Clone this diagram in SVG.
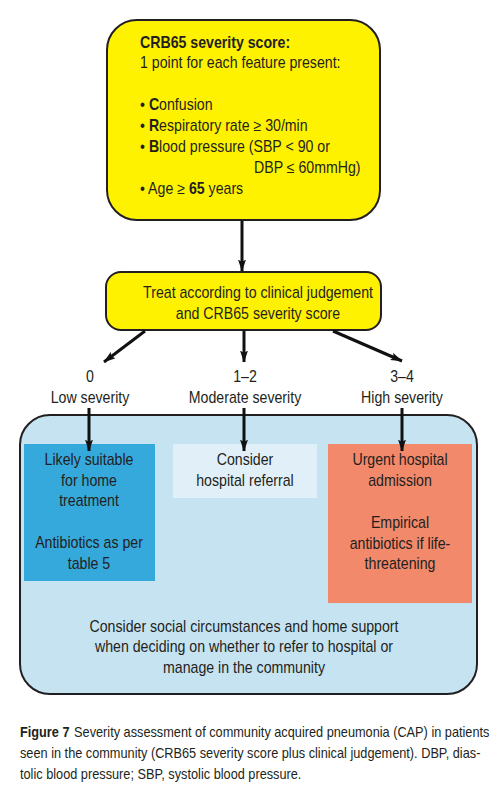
<svg xmlns="http://www.w3.org/2000/svg" width="499" height="794" viewBox="0 0 499 794">
<defs>
<marker id="ah" viewBox="0 0 12 8" refX="11.5" refY="4" markerWidth="4" markerHeight="2.67" orient="auto" markerUnits="strokeWidth">
<path d="M0,0 L12,4 L0,8 L2.5,4 Z" fill="#111"/>
</marker>
<style>
text{font-family:"Liberation Sans",Arial,sans-serif;font-size:16px;fill:#231f20}
.c{text-anchor:middle}
.b{font-weight:bold}
.cap{font-size:14px}
.conn line{stroke:#111;stroke-width:3;marker-end:url(#ah)}
</style>
</defs>
<rect width="499" height="794" fill="#fff"/>
<g id="community">
<rect x="20" y="415" width="457" height="279" rx="30" fill="#c6e3f2" stroke="#231f20" stroke-width="2"/>
<text class="c" transform="matrix(0.885 0 0 1 244 0)" y="632">Consider social circumstances and home support</text>
<text class="c" transform="matrix(0.885 0 0 1 244 0)" y="652">when deciding on whether to refer to hospital or</text>
<text class="c" transform="matrix(0.885 0 0 1 244 0)" y="673">manage in the community</text>
</g>
<g id="crb65">
<rect x="107" y="20" width="273" height="200" rx="30" fill="#fff200" stroke="#231f20" stroke-width="2"/>
<text transform="matrix(0.885 0 0 1 140 0)" y="48" class="b">CRB65 severity score:</text>
<text transform="matrix(0.885 0 0 1 140 0)" y="68">1 point for each feature present:</text>
<text transform="matrix(0.885 0 0 1 140 0)" y="110">• <tspan class="b">C</tspan>onfusion</text>
<text transform="matrix(0.885 0 0 1 140 0)" y="131">• <tspan class="b">R</tspan>espiratory rate ≥ 30/min</text>
<text transform="matrix(0.885 0 0 1 140 0)" y="152">• <tspan class="b">B</tspan>lood pressure (SBP &lt; 90 or</text>
<text transform="matrix(0.885 0 0 1 254 0)" y="173">DBP ≤ 60mmHg)</text>
<text transform="matrix(0.885 0 0 1 140 0)" y="194">• Age ≥ <tspan class="b">65</tspan> years</text>
</g>
<g id="treat">
<rect x="106" y="272" width="275" height="58" rx="15" fill="#fff200" stroke="#231f20" stroke-width="2"/>
<text class="c" transform="matrix(0.885 0 0 1 258 0)" y="298">Treat according to clinical judgement</text>
<text class="c" transform="matrix(0.885 0 0 1 258 0)" y="319">and CRB65 severity score</text>
</g>
<g id="labels">
<text class="c" transform="matrix(0.885 0 0 1 90 0)" y="382">0</text>
<text class="c" transform="matrix(0.885 0 0 1 90 0)" y="403">Low severity</text>
<text class="c" transform="matrix(0.885 0 0 1 245 0)" y="382">1–2</text>
<text class="c" transform="matrix(0.885 0 0 1 245 0)" y="403">Moderate severity</text>
<text class="c" transform="matrix(0.885 0 0 1 402 0)" y="382">3–4</text>
<text class="c" transform="matrix(0.885 0 0 1 402 0)" y="403">High severity</text>
</g>
<g id="low">
<rect x="24" y="444" width="131" height="137" fill="#35a8dc"/>
<text class="c" transform="matrix(0.885 0 0 1 89 0)" y="465">Likely suitable</text>
<text class="c" transform="matrix(0.885 0 0 1 89 0)" y="486">for home</text>
<text class="c" transform="matrix(0.885 0 0 1 89 0)" y="506">treatment</text>
<text class="c" transform="matrix(0.885 0 0 1 89 0)" y="548">Antibiotics as per</text>
<text class="c" transform="matrix(0.885 0 0 1 89 0)" y="569">table 5</text>
</g>
<g id="moderate">
<rect x="173" y="444" width="144" height="54" fill="#e1f0f8"/>
<text class="c" transform="matrix(0.885 0 0 1 245 0)" y="465">Consider</text>
<text class="c" transform="matrix(0.885 0 0 1 245 0)" y="486">hospital referral</text>
</g>
<g id="high">
<rect x="328" y="444" width="144" height="159" fill="#f2896a"/>
<text class="c" transform="matrix(0.885 0 0 1 400 0)" y="465">Urgent hospital</text>
<text class="c" transform="matrix(0.885 0 0 1 400 0)" y="486">admission</text>
<text class="c" transform="matrix(0.885 0 0 1 400 0)" y="528">Empirical</text>
<text class="c" transform="matrix(0.885 0 0 1 400 0)" y="549">antibiotics if life-</text>
<text class="c" transform="matrix(0.885 0 0 1 400 0)" y="569">threatening</text>
</g>
<g id="connectors" class="conn">
<line x1="242" y1="221" x2="242" y2="271"/>
<line x1="145" y1="331" x2="104" y2="362"/>
<line x1="244" y1="331" x2="244" y2="362"/>
<line x1="333" y1="331" x2="402" y2="361"/>
<line x1="89" y1="408" x2="89" y2="451"/>
<line x1="244" y1="408" x2="244" y2="451"/>
<line x1="402" y1="408" x2="402" y2="451"/>
</g>
<g id="caption">
<text transform="matrix(0.91 0 0 1 20 0)" y="737" class="cap"><tspan class="b">Figure 7</tspan><tspan dx="5">Severity assessment of community acquired pneumonia (CAP) in patients</tspan></text>
<text transform="matrix(0.91 0 0 1 20 0)" y="758" class="cap">seen in the community (CRB65 severity score plus clinical judgement). DBP, dias-</text>
<text transform="matrix(0.91 0 0 1 20 0)" y="779" class="cap">tolic blood pressure; SBP, systolic blood pressure.</text>
</g>
</svg>
